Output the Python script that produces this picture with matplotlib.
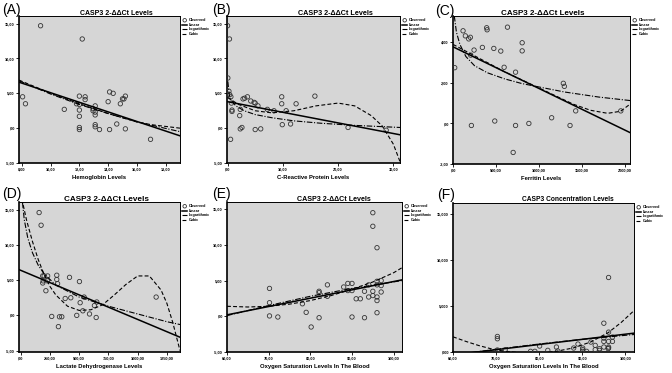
import matplotlib
matplotlib.use("Agg")
from matplotlib import pyplot as plt

plt.rcParams['font.family'] = ['Liberation Sans', 'DejaVu Sans']

# ---- (A) hemoglobin ----
hb_x = [9.3, 12.2, 8.05, 8.25, 10.95, 12.0, 11.8, 12.0, 12.0, 12.0, 12.0, 12.0, 12.4, 12.4, 12.95,
        12.95, 13.1, 13.1, 13.1, 13.1, 13.1, 13.4, 14.0, 14.1, 14.35, 14.1, 14.6, 14.85, 15.0, 15.1,
        15.2, 15.2, 16.95]
hb_y = [14.7, 12.8, 4.5, 3.5, 2.7, 4.6, 3.5, 3.4, 2.6, 1.7, 0.1, -0.2, 4.5, 4.1, 2.8,
        2.5, 3.2, 2.3, 1.9, 0.5, 0.2, -0.2, 3.8, 5.2, 5.0, -0.2, 0.6, 3.5, 4.2, 4.2,
        4.6, -0.1, -1.6]
hb_lin_x = [7.8, 19.0]
hb_lin_y = [6.6, -1.1]
hb_log_x = [7.8, 10, 12, 14, 16, 19]
hb_log_y = [6.8, 4.9, 3.4, 2.1, 0.9, -0.5]
hb_cub_x = [7.8, 10, 12, 14, 16, 17, 19]
hb_cub_y = [6.9, 5.0, 3.5, 2.1, 0.9, 0.5, 0.0]

# ---- (B) C-reactive protein ----
crp_x = [0.0, 0.35, 0.05, 0.25, 0.4, 0.6, 0.7, 0.8, 0.8, 0.55, 2.2, 2.3, 2.3, 2.6, 2.8, 3.1, 3.6,
         4.2, 4.8, 5.0, 5.0, 5.5, 6.0, 7.2, 8.4, 9.8, 9.8, 9.9, 10.6, 11.4, 12.4, 15.8, 21.8, 28.7]
crp_y = [14.7, 12.8, 7.2, 5.3, 4.8, 4.5, 3.6, 2.6, 2.4, -1.6, 1.8, 2.7, -0.1, 0.1, 4.2, 4.3, 4.5,
         3.9, 3.7, 3.6, -0.2, 3.2, -0.1, 2.7, 2.5, 4.5, 3.5, 0.5, 2.5, 0.6, 3.5, 4.6, 0.1, -0.3]
crp_lin_x = [0, 31.2]
crp_lin_y = [3.8, -0.95]
crp_log_x = [0.05, 0.3, 0.7, 1.5, 3, 5, 8, 12, 17, 23, 31.2]
crp_log_y = [6.7, 4.8, 3.95, 3.2, 2.5, 1.95, 1.5, 1.05, 0.7, 0.4, 0.1]
crp_cub_x = [0, 2, 5, 8, 12, 16, 20, 23, 26, 28, 30, 31.2]
crp_cub_y = [4.4, 3.4, 2.5, 2.2, 2.5, 3.2, 3.6, 3.2, 1.8, 0.3, -2.3, -4.8]

# ---- (C) ferritin ----
fer_x = [20, 117, 144, 183, 202, 245, 206, 214, 342, 397, 392, 475, 556, 486, 595, 634, 700,
         728, 728, 883, 805, 805, 1284, 1296, 1148, 1362, 1428, 1953]
fer_y = [2.75, 4.57, 4.32, 4.17, 4.25, 3.62, 3.37, -0.1, 3.75, 4.62, 4.72, 3.7, 3.57, 0.12, 2.77,
         4.75, -1.43, 2.53, -0.1, 0.0, 3.98, 3.58, 1.98, 1.83, 0.28, -0.1, 0.62, 0.62]
fer_lin_x = [0, 2060]
fer_lin_y = [3.78, -0.45]
fer_log_x = [15, 40, 80, 150, 250, 400, 600, 800, 1000, 1300, 1700, 2060]
fer_log_y = [5.3, 4.5, 3.9, 3.3, 2.85, 2.5, 2.2, 1.97, 1.8, 1.55, 1.3, 1.13]
fer_cub_x = [0, 200, 400, 600, 800, 1000, 1200, 1400, 1600, 1800, 1950, 2060]
fer_cub_y = [3.9, 3.45, 3.0, 2.55, 2.15, 1.75, 1.35, 0.95, 0.65, 0.5, 0.6, 0.95]

# ---- (D) lactate dehydrogenase ----
ldh_x = [157, 174, 188, 200, 230, 192, 188, 229, 215, 308, 308, 315, 265, 331, 351, 322, 417,
         380, 428, 479, 502, 508, 531, 542, 630, 650, 588, 645, 1158]
ldh_y = [14.6, 12.8, 5.6, 5.6, 5.6, 4.9, 4.6, 4.9, 3.5, 5.7, 5.1, 4.5, -0.15, -0.2, -0.2, -1.6, 5.4,
         2.4, 2.5, 0.0, 4.8, 1.8, 0.65, 2.6, 1.4, 1.9, 0.2, -0.3, 2.6]
ldh_lin_x = [-15, 1362]
ldh_lin_y = [6.5, -3.1]
ldh_log_x = [15, 30, 60, 100, 150, 200, 300, 500, 750, 1000, 1250, 1362]
ldh_log_y = [16.0, 13.6, 11.0, 8.9, 7.1, 5.9, 4.3, 2.6, 1.3, 0.2, -0.9, -1.3]
ldh_cub_x = [10, 50, 100, 150, 200, 250, 300, 400, 500, 600, 700, 800, 900, 1000, 1100, 1200,
             1250, 1300, 1362]
ldh_cub_y = [16.5, 13.5, 10.5, 7.9, 5.8, 4.1, 2.9, 1.3, 0.7, 0.8, 1.5, 2.9, 4.4, 5.6, 5.6, 3.6,
             1.7, -1.0, -5.0]

# ---- (E) oxygen saturation vs 2-ddCt ----
o2_x = [95.0, 95.0, 96.0, 70.2, 70.2, 70.2, 72.2, 78.1, 79.0, 80.2, 82.1, 82.1, 82.1, 84.1, 84.1,
        88.0, 89.0, 90.0, 89.0, 90.0, 90.0, 91.0, 92.0, 93.0, 93.0, 94.0, 94.0, 95.0, 95.0, 96.0,
        96.0, 96.0, 96.0, 96.0, 97.0, 97.0, 97.0]
o2_y = [14.5, 12.6, 9.6, 3.9, 1.9, 0.05, -0.1, 1.75, 0.55, -1.5, 3.5, 3.3, -0.2, 4.4, 2.8,
        4.1, 4.6, 4.6, 3.6, 3.6, -0.1, 2.45, 2.45, -0.2, 3.5, 4.4, 2.7, 3.5, 2.9, 4.9,
        4.4, 2.7, 2.2, 0.5, 5.0, 4.3, 3.4]
o2_lin_x = [60, 102]
o2_lin_y = [0.2, 5.1]
o2_log_x = [60, 70, 80, 90, 102]
o2_log_y = [0.1, 1.5, 2.8, 3.9, 5.0]
o2_cub_x = [60, 65, 70, 75, 80, 85, 90, 95, 100, 102]
o2_cub_y = [1.4, 1.3, 1.4, 1.7, 2.2, 2.9, 3.8, 4.8, 6.1, 6.8]

# ---- (F) oxygen saturation vs concentration ----
conc_x = [96.1, 95.0, 70.3, 70.3, 70.3, 72.1, 80.1, 78.0, 79.0, 82.0, 84.0, 84.3, 88.0, 89.0,
          90.1, 90.1, 90.1, 91.0, 92.0, 93.0, 93.0, 94.0, 94.0, 95.0, 95.0, 95.0, 96.1, 96.1,
          96.1, 96.1, 96.0, 97.0, 97.0]
conc_y = [8100, 3130, 1690, 1440, 216, 216, 648, 72, 72, 180, 540, 108, 432, 864,
          432, 252, 72, 72, 1080, 720, 250, 360, 180, 1150, 1510, 540, 2160, 1150,
          540, 430, 360, 1620, 1150]
conc_lin_x = [60, 102]
conc_lin_y = [-310, 2050]
conc_log_x = [60, 70, 80, 90, 102]
conc_log_y = [-350, 300, 870, 1380, 1900]
conc_cub_x = [60, 63, 66, 69, 72, 76, 80, 84, 88, 92, 96, 99, 102]
conc_cub_y = [1650, 1150, 700, 330, 80, -100, -120, 80, 450, 1100, 2100, 3200, 4500]

W, H = 672, 373
fig = plt.figure(figsize=(W / 100, H / 100), dpi=100)


def px(l, t, r, b):
    return [l / W, 1 - b / H, (r - l) / W, (b - t) / H]


std_y = [-5, 0, 5, 10, 15]
std_yl = ['-5,00', ',00', '5,00', '10,00', '15,00']
sat_x = [60, 70, 80, 90, 100]
sat_xl = ['60,00', '70,00', '80,00', '90,00', '100,00']

panels = [
    dict(tag='(A)', tag_xy=(2, 3), box=(19, 16, 180, 163), title='CASP3 2-ΔΔCt Levels', tsize=5.0,
         tx=116, ty=15, xlabel='Hemoglobin Levels',
         obs=(hb_x, hb_y), lin=(hb_lin_x, hb_lin_y), log=(hb_log_x, hb_log_y), cub=(hb_cub_x, hb_cub_y),
         xlim=(7.8, 19.0), ylim=(-5, 16.1), xt=[8, 10, 12, 14, 16, 18],
         xtl=['8,00', '10,00', '12,00', '14,00', '16,00', '18,00'], yt=std_y, ytl=std_yl),
    dict(tag='(B)', tag_xy=(212, 3), box=(227, 16, 400, 163), title='CASP3 2-ΔΔCt Levels', tsize=5.2,
         tx=335, ty=15, xlabel='C-Reactive Protein Levels',
         obs=(crp_x, crp_y), lin=(crp_lin_x, crp_lin_y), log=(crp_log_x, crp_log_y), cub=(crp_cub_x, crp_cub_y),
         xlim=(-0.1, 31.2), ylim=(-5, 16.1), xt=[0, 10, 20, 30],
         xtl=[',00', '10,00', '20,00', '30,00'], yt=std_y, ytl=std_yl),
    dict(tag='(C)', tag_xy=(435, 4), box=(453, 16, 630, 164), title='CASP3 2-ΔΔCt Levels', tsize=5.8,
         tx=543, ty=15, xlabel='Ferritin Levels',
         obs=(fer_x, fer_y), lin=(fer_lin_x, fer_lin_y), log=(fer_log_x, fer_log_y), cub=(fer_cub_x, fer_cub_y),
         xlim=(0, 2060), ylim=(-2, 5.3), xt=[0, 500, 1000, 1500, 2000],
         xtl=[',00', '500,00', '1000,00', '1500,00', '2000,00'], yt=[-2, 0, 2, 4],
         ytl=['-2,00', ',00', '2,00', '4,00']),
    dict(tag='(D)', tag_xy=(2, 187), box=(19, 202, 180, 352), title='CASP3 2-ΔΔCt Levels', tsize=5.9,
         tx=106, ty=201, xlabel='Lactate Dehydrogenase Levels',
         obs=(ldh_x, ldh_y), lin=(ldh_lin_x, ldh_lin_y), log=(ldh_log_x, ldh_log_y), cub=(ldh_cub_x, ldh_cub_y),
         xlim=(-15, 1362), ylim=(-5.2, 16.1), xt=[0, 250, 500, 750, 1000, 1250],
         xtl=[',00', '250,00', '500,00', '750,00', '1000,00', '1250,00'], yt=std_y, ytl=std_yl),
    dict(tag='(E)', tag_xy=(212, 187), box=(227, 202, 402, 352), title='CASP3 2-ΔΔCt Levels', tsize=5.1,
         tx=334, ty=201, xlabel='Oxygen Saturation Levels In The Blood',
         obs=(o2_x, o2_y), lin=(o2_lin_x, o2_lin_y), log=(o2_log_x, o2_log_y), cub=(o2_cub_x, o2_cub_y),
         xlim=(60, 102), ylim=(-5, 16), xt=sat_x, xtl=sat_xl, yt=std_y, ytl=std_yl),
    dict(tag='(F)', tag_xy=(437, 188), box=(453, 203, 634, 352), title='CASP3 Concentration Levels', tsize=4.8,
         tx=568, ty=201, xlabel='Oxygen Saturation Levels In The Blood',
         obs=(conc_x, conc_y), lin=(conc_lin_x, conc_lin_y), log=(conc_log_x, conc_log_y),
         cub=(conc_cub_x, conc_cub_y),
         xlim=(60, 102), ylim=(0, 16200), xt=sat_x, xtl=sat_xl, yt=[0, 5000, 10000, 15000],
         ytl=[',000', '5,000', '10,000', '15,000']),
]

for p in panels:
    ax = fig.add_axes(px(*p['box']))
    ax.set_facecolor('#d6d6d6')
    ax.scatter(*p['obs'], s=10, facecolors='none', edgecolors='#333333', linewidths=0.6,
               label='Observed', zorder=3)
    ax.plot(*p['lin'], color='black', lw=1.1, label='Linear', zorder=4)
    ax.plot(*p['log'], color='black', lw=0.8, dashes=(5, 1.5, 1, 1.5), label='Logarithmic', zorder=4)
    ax.plot(*p['cub'], color='black', lw=0.8, dashes=(3.5, 2), label='Cubic', zorder=4)
    ax.set_xlim(*p['xlim'])
    ax.set_ylim(*p['ylim'])
    ax.set_xticks(p['xt'])
    ax.set_xticklabels(p['xtl'], fontweight='bold')
    ax.set_yticks(p['yt'])
    ax.set_yticklabels(p['ytl'], fontweight='bold')
    ax.tick_params(labelsize=2.8, length=2, width=0.6, pad=1)
    for s in ['left', 'bottom']:
        ax.spines[s].set_linewidth(1.2)
    for s in ['top', 'right']:
        ax.spines[s].set_linewidth(0.7)
    ax.set_xlabel(p['xlabel'], fontsize=4.2, fontweight='bold', labelpad=3)
    ax.legend(loc='upper left', bbox_to_anchor=(1.0, 1.0), frameon=False, fontsize=2.7,
              handlelength=1.3, handletextpad=0.4, labelspacing=0.15, borderaxespad=0.2,
              markerscale=0.8, prop={'weight': 'bold', 'size': 2.7})
    fig.text(p['tx'] / W, 1 - p['ty'] / H, p['title'], fontsize=p['tsize'], fontweight='bold',
             ha='center', va='baseline')
    fig.text(p['tag_xy'][0] / W, 1 - p['tag_xy'][1] / H, p['tag'], fontsize=10,
             ha='left', va='top')

fig.savefig('out.png', dpi=100)
